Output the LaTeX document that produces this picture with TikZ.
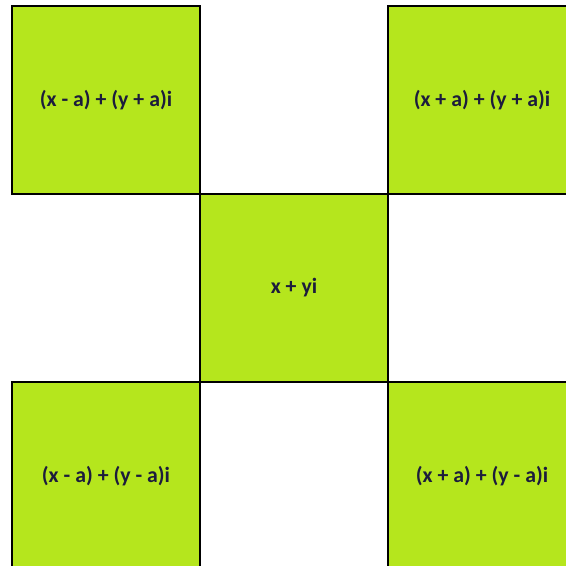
\documentclass[tikz,border=0pt]{standalone}
\usepackage{fontspec}
\setmainfont{Carlito}
\definecolor{limefill}{HTML}{B5E61D}
\definecolor{navytext}{HTML}{1C1C3C}
\tikzset{
  cellbox/.style={draw=black,line width=1.6pt,fill=limefill,minimum size=3.76cm,
    inner sep=0pt,text=navytext,font=\bfseries\fontsize{12.4}{14}\selectfont}
}
\begin{document}
\begin{tikzpicture}
  \useasboundingbox (0,0) rectangle (11.32,11.32);
  \clip (0,0) rectangle (11.32,11.32);
  \node[cellbox] (tl) at (2.12,9.32) {(x - a) + (y + a)i};
  \node[cellbox] (tr) at (9.64,9.32) {(x + a) + (y + a)i};
  \node[cellbox] (mid) at (5.88,5.56) {x + yi};
  \node[cellbox] (bl) at (2.12,1.80) {(x - a) + (y - a)i};
  \node[cellbox] (br) at (9.64,1.80) {(x + a) + (y - a)i};
\end{tikzpicture}
\end{document}
